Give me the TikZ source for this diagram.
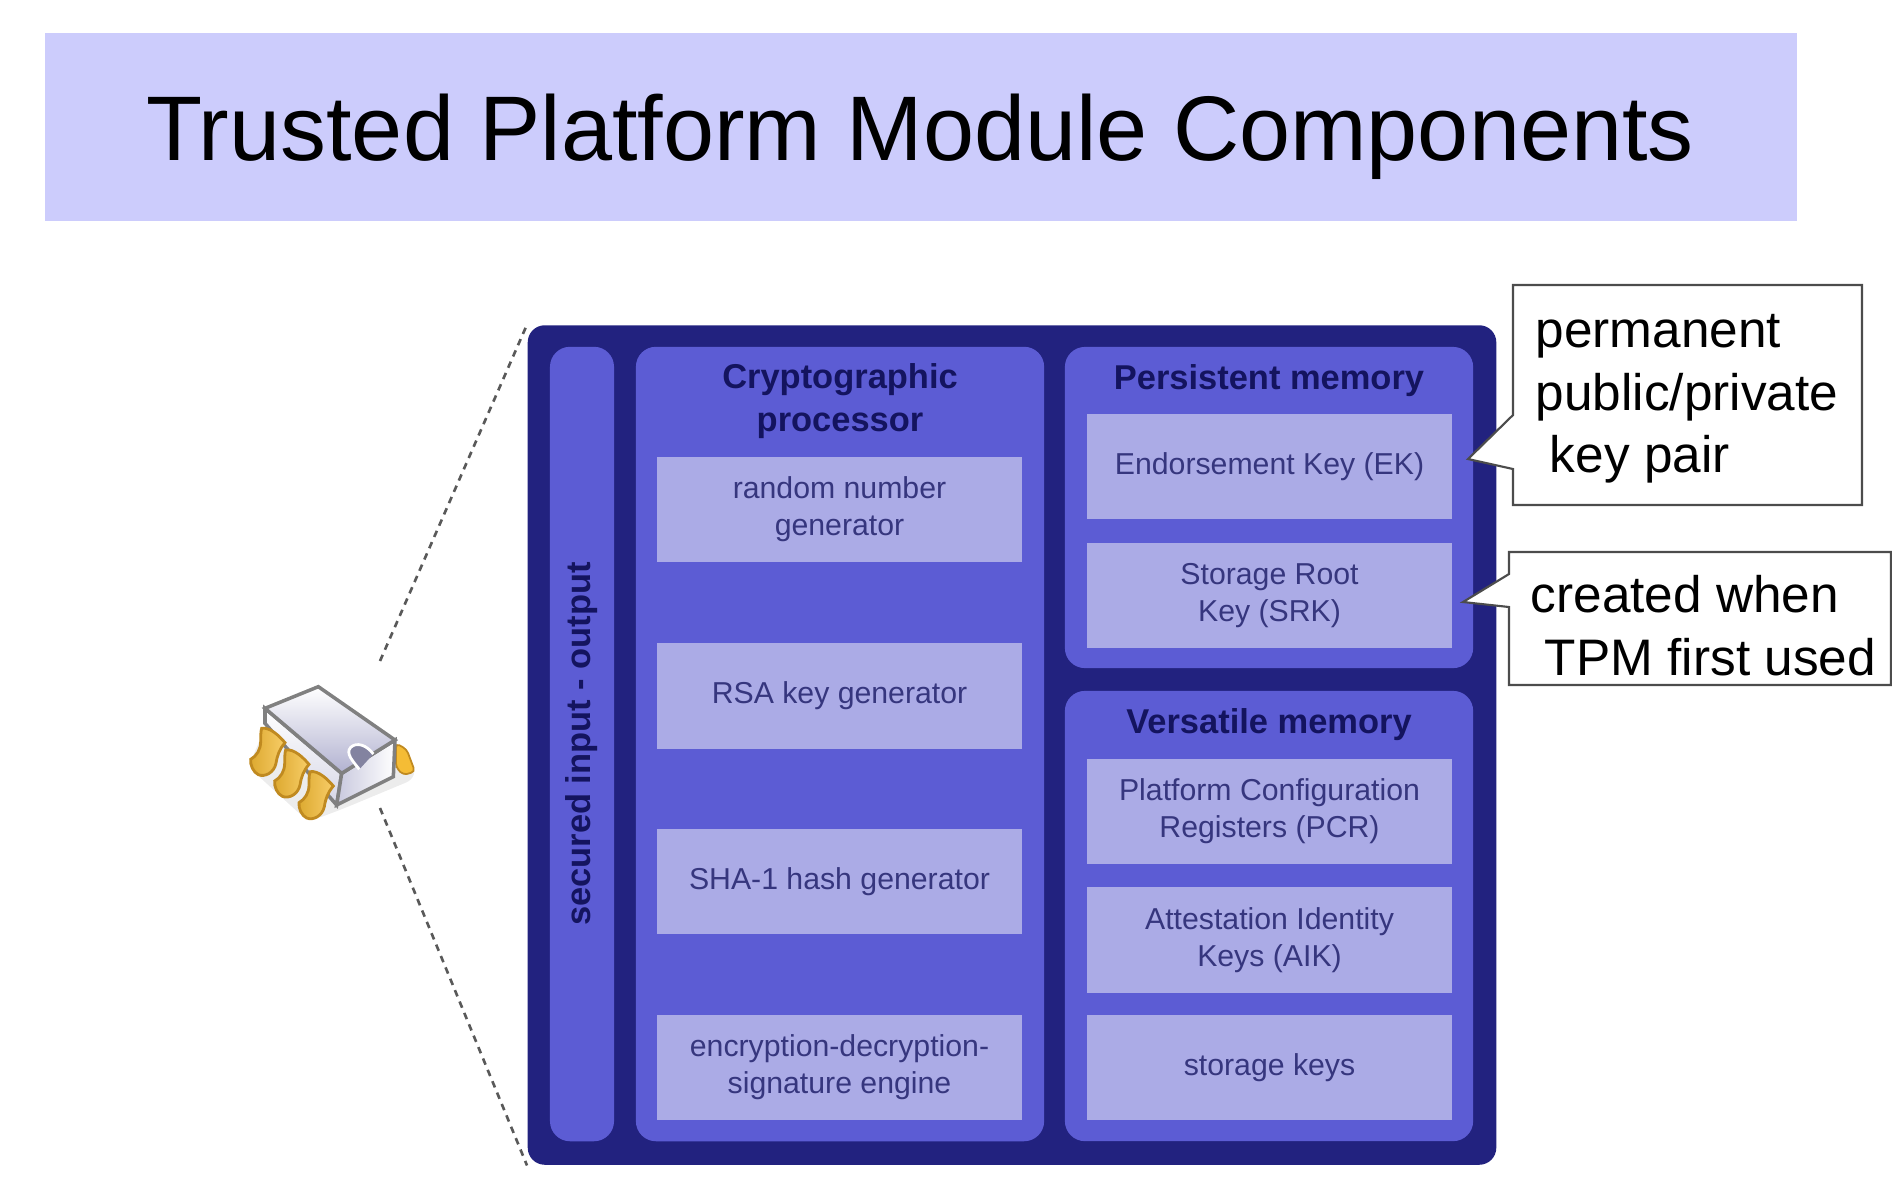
\documentclass[tikz,border=0pt]{standalone}
\usepackage{fontspec}
\setmainfont{Liberation Sans}
\usetikzlibrary{calc,positioning}
\definecolor{band}{HTML}{CCCCFC}
\definecolor{navy}{HTML}{22227F}
\definecolor{panel}{HTML}{5C5CD4}
\definecolor{slot}{HTML}{ABABE6}
\definecolor{slotink}{HTML}{36367E}
\definecolor{headink}{HTML}{14145F}
\definecolor{pin}{HTML}{F5BC35}
\definecolor{pinedge}{HTML}{C08A20}
\definecolor{chipshade}{HTML}{A4A4C8}
\tikzset{
panelbox/.style={fill=panel,rounded corners=.2cm,inner sep=0pt},
slotbox/.style={fill=slot,text=slotink,minimum width=3.65cm,minimum height=1.05cm,inner sep=0pt,align=center,font=\fontsize{8.6}{10.6}\selectfont},
headtext/.style={text=headink,align=center,inner sep=0pt,font=\fontsize{9.8}{12.2}\selectfont\bfseries},
notetext/.style={align=left,inner sep=0pt,anchor=north west,font=\fontsize{14.6}{17.7}\selectfont},
noteline/.style={draw=black!70,fill=white,line width=.6pt},
guide/.style={black!65,line width=.75pt,dash pattern=on 1.9pt off 1.6pt}}
\newcommand{\chipicon}[2]{\begin{scope}[shift={(#1,#2)},scale=1/3]\fill[black!30,opacity=.25,rounded corners=.15cm] (55,320)--(235,485)--(330,450)--(570,350)--(510,250)--(120,170)--cycle;\draw[pinedge,fill=pin,line width=.5pt,rounded corners=.04cm] (498,250)--(530,268)--(555,335)--(520,345)--(498,322)--cycle;\draw[black!50,line width=1pt,top color=white,bottom color=chipshade!45] (105,145)--(335,340)--(320,435)--(105,190)--cycle;\draw[black!50,line width=1pt,left color=chipshade!60,right color=white] (335,340)--(495,240)--(490,350)--(320,435)--cycle;\draw[black!50,line width=1pt,top color=white,bottom color=chipshade!85] (105,145)--(265,80)--(495,240)--(335,340)--cycle;\draw[white,fill=chipshade!80!black,line width=.8pt] (388,328) .. controls (370,305) and (345,280) .. (362,262) .. controls (380,245) and (410,255) .. (430,282);\foreach \px/\py in {145/130,72/65,0/0}{\draw[pinedge,line width=.8pt,left color=pin!90!black,right color=pin!75!white,shift={(\px,\py)}] (95,205) .. controls (120,200) and (150,230) .. (165,248) .. controls (148,268) and (142,285) .. (138,310) .. controls (132,338) and (105,352) .. (85,344) .. controls (70,337) and (60,315) .. (62,298) .. controls (80,288) and (92,268) .. (92,245) .. controls (92,230) and (92,215) .. (95,205) -- cycle;}\end{scope}}
\begin{document}
\begin{tikzpicture}[x=.01cm,y=-.01cm]
\useasboundingbox (0,0) rectangle (1892,1178);
\fill[band] (45,33) rectangle (1797,221);
\node[inner sep=0pt,font=\fontsize{26.1}{30}\selectfont] (heading) at (920,137) {Trusted Platform Module Components};
\node[fill=navy,rounded corners=.17cm,minimum width=9.68cm,minimum height=8.39cm,inner sep=0pt] (tpm) at (1012,745) {};
\node[panelbox,minimum width=.64cm,minimum height=7.94cm] (iobar) at (582,744) {};
\node[panelbox,minimum width=4.08cm,minimum height=7.94cm] (crypto) at (840,744) {};
\node[panelbox,minimum width=4.08cm,minimum height=3.21cm] (persist) at (1269,507.5) {};
\node[panelbox,minimum width=4.08cm,minimum height=4.5cm] (versatile) at (1269,916) {};
\node[headtext,rotate=90] (iotext) at (582,744) {secured input - output};
\node[headtext] (cryptotext) at (840,401.5) {Cryptographic\\processor};
\node[headtext] (persisttext) at (1269,380.5) {Persistent memory};
\node[headtext] (versatiletext) at (1269,724.5) {Versatile memory};
\node[slotbox] (rng) at (839.5,509.5) {random number\\generator};
\node[slotbox] (rsa) at (839.5,696) {RSA key generator};
\node[slotbox] (sha) at (839.5,881.5) {SHA-1 hash generator};
\node[slotbox] (engine) at (839.5,1067.5) {encryption-decryption-\\signature engine};
\node[slotbox] (ek) at (1269.5,466.5) {Endorsement Key (EK)};
\node[slotbox] (srk) at (1269.5,595.5) {Storage Root\\Key (SRK)};
\node[slotbox] (pcr) at (1269.5,811.5) {Platform Configuration\\Registers (PCR)};
\node[slotbox] (aik) at (1269.5,940) {Attestation Identity\\Keys (AIK)};
\node[slotbox] (storage) at (1269.5,1067.5) {storage keys};
\draw[noteline] (1513,285)--(1862,285)--(1862,505)--(1513,505)--(1513,469)--(1468,459)--(1513,415)--cycle;
\draw[noteline] (1509,552)--(1891,552)--(1891,685)--(1509,685)--(1509,607)--(1463,602)--(1509,574)--cycle;
\node[notetext] (keynote) at (1535,314) {permanent\\public/private\\\ key pair};
\node[notetext] (srknote) at (1530,575) {created when\\\ TPM first used};
\chipicon{230}{660}
\coordinate (chipup) at (380,661);\coordinate (chipdown) at (380,808);
\draw[guide] (chipup)--(tpm.north west);\draw[guide] (chipdown)--(tpm.south west);
\end{tikzpicture}
\end{document}
